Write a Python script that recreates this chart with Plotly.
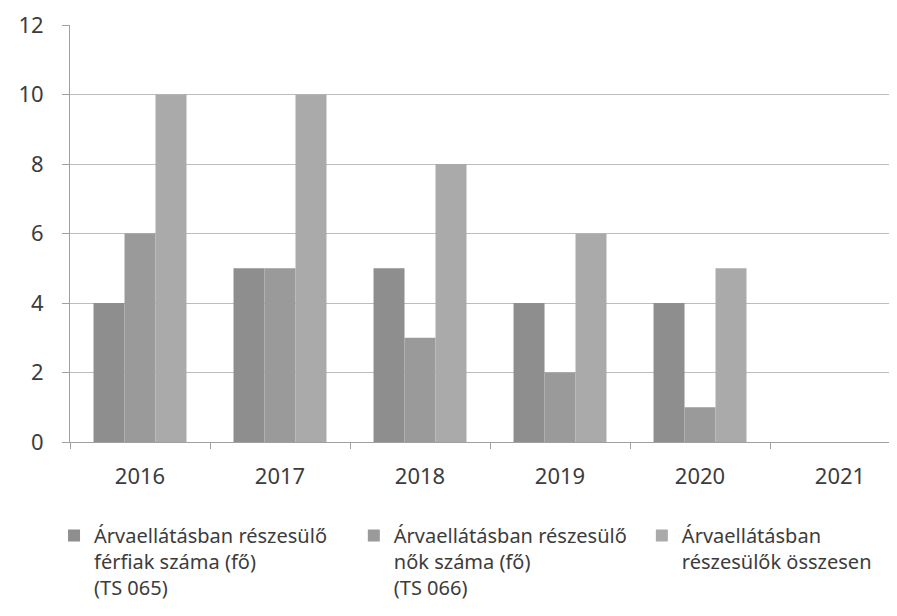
import plotly.graph_objects as go

years = ["2016", "2017", "2018", "2019", "2020", "2021"]
ferfiak = [4, 5, 5, 4, 4, None]
nok = [6, 5, 3, 2, 1, None]
osszesen = [10, 10, 8, 6, 5, None]

names = [
    "Árvaellátásban részesülő<br>férfiak száma (fő)<br>(TS 065)",
    "Árvaellátásban részesülő<br>nők száma (fő)<br>(TS 066)",
    "Árvaellátásban<br>részesülők összesen",
]
colors = ["#8e8e8e", "#9a9a9a", "#aaaaaa"]
series = [ferfiak, nok, osszesen]
legends = ["legend", "legend2", "legend3"]
legend_x = [0.0518, 0.389, 0.713]

font_family = "Noto Sans, sans-serif"
fc = "#3c3c3c"

fig = go.Figure()
for s, n, c, lg in zip(series, names, colors, legends):
    fig.add_trace(go.Bar(x=years, y=s, name=n, marker=dict(color=c, line=dict(width=0)),
                         legend=lg, showlegend=True))

def leg(x):
    return dict(orientation="v", yanchor="top", xanchor="left", y=0.1645, x=x,
                xref="container", yref="container", valign="top",
                font=dict(family=font_family, size=20, color=fc),
                itemwidth=30, bgcolor="rgba(0,0,0,0)", tracegroupgap=0)

fig.update_layout(
    width=889, height=608,
    margin=dict(l=62, r=0, t=17, b=174, autoexpand=False),
    plot_bgcolor="white", paper_bgcolor="white",
    showlegend=True,
    barmode="group", bargap=0.336, bargroupgap=0,
    font=dict(family=font_family, size=20, color=fc),
    legend=leg(legend_x[0]),
    legend2=leg(legend_x[1]),
    legend3=leg(legend_x[2]),
    xaxis=dict(range=[-0.5, 5.407], showline=True, linecolor="#a0a0a0", linewidth=1,
               ticks="outside", ticklen=6, tickcolor="#a0a0a0", tickson="boundaries",
               tickfont=dict(size=22), showgrid=False, ticklabelstandoff=15),
    yaxis=dict(range=[0, 12], dtick=2, showline=True, linecolor="#a0a0a0", linewidth=1,
               ticks="outside", ticklen=7, tickcolor="#a0a0a0",
               gridcolor="#bdbdbd", gridwidth=1, tickfont=dict(size=22),
               zeroline=False, ticklabelstandoff=14),
)

fig.write_html("out.html")
